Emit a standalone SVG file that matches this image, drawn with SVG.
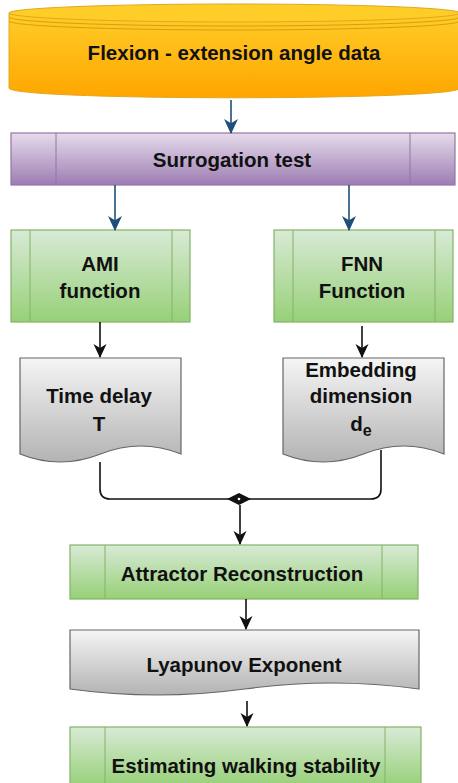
<svg xmlns="http://www.w3.org/2000/svg" width="458" height="783" viewBox="0 0 458 783">
<style>
text{font-family:"Liberation Sans",Arial,sans-serif;font-weight:bold;font-size:20.5px;fill:#111;text-anchor:middle}
.g{fill:url(#gg);stroke:#82b366;stroke-width:1.2}
.gl{stroke:#82b366;stroke-width:1;fill:none}
.d{fill:url(#gd);stroke:#666;stroke-width:1.2}
.c{fill:none;stroke:#111;stroke-width:1.6}
.b{fill:none;stroke:#1f4e79;stroke-width:1.6}
</style>
<defs>
<linearGradient id="gy" x1="0" y1="0" x2="0" y2="1"><stop offset="0" stop-color="#ffcd28"/><stop offset="1" stop-color="#ffa500"/></linearGradient>
<linearGradient id="gp" x1="0" y1="0" x2="0" y2="1"><stop offset="0" stop-color="#e6dcec"/><stop offset="1" stop-color="#9c7db2"/></linearGradient>
<linearGradient id="gg" x1="0" y1="0" x2="0" y2="1"><stop offset="0" stop-color="#d8ead6"/><stop offset="1" stop-color="#97d077"/></linearGradient>
<linearGradient id="gd" x1="0" y1="0" x2="0" y2="1"><stop offset="0" stop-color="#f5f5f5"/><stop offset="1" stop-color="#b3b3b3"/></linearGradient>
<marker id="ak" viewBox="0 0 14 14" refX="13" refY="7" markerWidth="14" markerHeight="14" markerUnits="userSpaceOnUse" orient="auto"><path d="M0,0.5 L14,7 L0,13.5 L4,7 Z" fill="#111"/></marker>
<marker id="ab" viewBox="0 0 14 14" refX="13" refY="7" markerWidth="15" markerHeight="15" markerUnits="userSpaceOnUse" orient="auto"><path d="M0,0.5 L14,7 L0,13.5 L4,7 Z" fill="#1f4e79"/></marker>
</defs>

<g id="flexion">
<path d="M9,13 L9,88 C9,101 460,101 460,88 L460,13 Z" fill="url(#gy)" stroke="#e0a820" stroke-width="1"/>
<ellipse cx="234.5" cy="13" rx="225.5" ry="9" fill="#ffcd28" stroke="#e0a820" stroke-width="1"/>
<path d="M9,17 A225.5,9 0 0 0 460,17" fill="none" stroke="#d99e10" stroke-width="1"/>
<path d="M9,21 A225.5,9 0 0 0 460,21" fill="none" stroke="#d99e10" stroke-width="1"/>
<text x="234" y="60">Flexion - extension angle data</text>
</g>

<g id="surrogation">
<rect x="11" y="133" width="444" height="52" fill="url(#gp)" stroke="#9673a6" stroke-width="1.2"/>
<path d="M56,133 V185 M410,133 V185" stroke="#9673a6" stroke-width="1" fill="none"/>
<text x="232" y="167">Surrogation test</text>
</g>

<g id="ami">
<rect class="g" x="11" y="230" width="179" height="92"/>
<path class="gl" d="M30,230 V322 M172,230 V322"/>
<text x="100" y="271">AMI</text>
<text x="100" y="298">function</text>
</g>

<g id="fnn">
<rect class="g" x="274" y="230" width="179" height="92"/>
<path class="gl" d="M293,230 V322 M435,230 V322"/>
<text x="362" y="271">FNN</text>
<text x="362" y="298">Function</text>
</g>

<g id="timedelay">
<path class="d" d="M20,358 H181 V454 Q140.75,438 100.5,454 Q60.25,470 20,454 Z"/>
<text x="99" y="403">Time delay</text>
<text x="99" y="431">T</text>
</g>

<g id="embedding">
<path class="d" d="M283,358 H444 V454 Q403.75,438 363.5,454 Q323.25,470 283,454 Z"/>
<text x="361" y="377">Embedding</text>
<text x="361" y="403">dimension</text>
<text x="361" y="431">d<tspan font-size="16" dy="5">e</tspan></text>
</g>

<g id="attractor">
<rect class="g" x="70" y="545" width="348" height="54"/>
<path class="gl" d="M105,545 V599 M382,545 V599"/>
<text x="242" y="581">Attractor Reconstruction</text>
</g>

<g id="lyapunov">
<path class="d" d="M70,630 H419 V689 Q331.75,677 244.5,689 Q157.25,701 70,689 Z"/>
<text x="244" y="672">Lyapunov Exponent</text>
</g>

<g id="estimating">
<rect class="g" x="70" y="727" width="351" height="60"/>
<path class="gl" d="M105,727 V787 M385,727 V787"/>
<text x="246" y="773">Estimating walking stability</text>
</g>

<g id="connectors">
<path class="b" d="M231,100 V133" marker-end="url(#ab)"/>
<path class="b" d="M115,185 V230" marker-end="url(#ab)"/>
<path class="b" d="M349,185 V230" marker-end="url(#ab)"/>
<path class="c" d="M100,322 V357" marker-end="url(#ak)"/>
<path class="c" d="M362,326 V357" marker-end="url(#ak)"/>
<path class="c" d="M100,462 V489 Q100,499 110,499 H239"/>
<path class="c" d="M381,450 V489 Q381,499 371,499 H239"/>
<polygon points="227,499 239,493 251,499 239,505" fill="#111"/>
<circle cx="239" cy="499" r="1.3" fill="#fff"/>
<path class="c" d="M240,505 V544" marker-end="url(#ak)"/>
<path class="c" d="M246,599 V629" marker-end="url(#ak)"/>
<path class="c" d="M247,701 V726" marker-end="url(#ak)"/>
</g>
</svg>
